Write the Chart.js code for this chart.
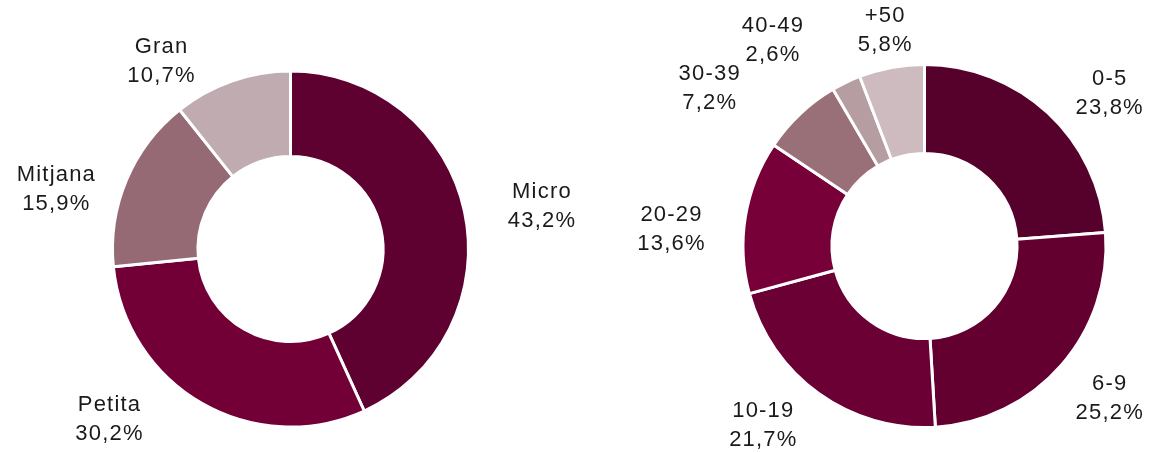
<!DOCTYPE html>
<html>
<head>
<meta charset="utf-8">
<script src="https://cdn.jsdelivr.net/npm/chart.js@4/dist/chart.umd.min.js"></script>
<style>
  html, body { margin: 0; padding: 0; background: #fff; }
  #wrap { position: relative; width: 1160px; height: 453px; }
  canvas { position: absolute; top: 0; }
  #sizeChart { left: 0; }
  #staffChart { left: 580px; }
</style>
</head>
<body>
<div id="wrap">
  <canvas id="sizeChart" width="580" height="453"></canvas>
  <canvas id="staffChart" width="580" height="453"></canvas>
</div>
<script>
// --- dades ---
const sizeLabels = ['Micro', 'Petita', 'Mitjana', 'Gran'];
const sizeValues = [43.2, 30.2, 15.9, 10.7];
const sizeColors = ['#5e0030', '#720036', '#966a74', '#c0abb0'];

const staffLabels = ['0-5', '6-9', '10-19', '20-29', '30-39', '40-49', '+50'];
const staffValues = [23.8, 25.2, 21.7, 13.6, 7.2, 2.6, 5.8];
const staffColors = ['#56002c', '#640030', '#6a0034', '#770038', '#9a7078', '#b59da2', '#cdbbbf'];

// posició de les etiquetes: distància (x radi) i ajust d'angle (graus)
const sizeLabelDist = [1.43, 1.40, 1.36, 1.28];
const sizeLabelNudge = [2.5, 16.9, -8.7, -15.4];
const staffLabelDist = [1.32, 1.32, 1.33, 1.40, 1.47, 1.41, 1.21];
const staffLabelNudge = [7.5, -1.6, 6.4, -5.6, -10.6, -10.9, 0];

const fmt = v => v.toFixed(1).replace('.', ',') + '%';

// plugin que escriu nom + percentatge al voltant de cada porció
const outsideLabels = {
    id: 'outsideLabels',
    afterDraw(chart, args, opts) {
        const ctx = chart.ctx;
        const meta = chart.getDatasetMeta(0);
        const ds = chart.data.datasets[0];
        const spacing = 1.2;
        ctx.save();
        ctx.font = '22px "Liberation Sans", Arial, sans-serif';
        ctx.letterSpacing = spacing + 'px';
        ctx.fillStyle = '#1a1a1a';
        ctx.textAlign = 'center';
        ctx.textBaseline = 'middle';
        meta.data.forEach((arc, i) => {
            const p = arc.getProps(['x', 'y', 'startAngle', 'endAngle', 'outerRadius'], true);
            const mid = (p.startAngle + p.endAngle) / 2 + opts.nudge[i] * Math.PI / 180;
            const r = p.outerRadius * opts.dist[i];
            // l'espaiat final desplaça el text, es compensa
            const x = p.x + Math.cos(mid) * r + spacing / 2;
            const y = p.y + Math.sin(mid) * r;
            ctx.fillText(chart.data.labels[i], x, y - 14.5);
            ctx.fillText(fmt(ds.data[i]), x, y + 14.5);
        });
        ctx.restore();
    }
};

function makeDonut(id, labels, values, colors, cutout, padding, dist, nudge) {
    return new Chart(document.getElementById(id), {
        type: 'doughnut',
        data: {
            labels: labels,
            datasets: [{
                data: values,
                backgroundColor: colors,
                borderColor: '#ffffff',
                borderWidth: 3
            }]
        },
        options: {
            responsive: false,
            animation: false,
            cutout: cutout,
            layout: { padding: padding },
            plugins: {
                legend: { display: false },
                tooltip: { enabled: false },
                outsideLabels: { dist: dist, nudge: nudge }
            }
        },
        plugins: [outsideLabels]
    });
}

makeDonut('sizeChart', sizeLabels, sizeValues, sizeColors, '52%',
    { left: 111, right: 110, top: 69.5, bottom: 24.5 }, sizeLabelDist, sizeLabelNudge);
makeDonut('staffChart', staffLabels, staffValues, staffColors, '51%',
    { left: 161.5, right: 52.5, top: 63, bottom: 24 }, staffLabelDist, staffLabelNudge);
</script>
</body>
</html>
